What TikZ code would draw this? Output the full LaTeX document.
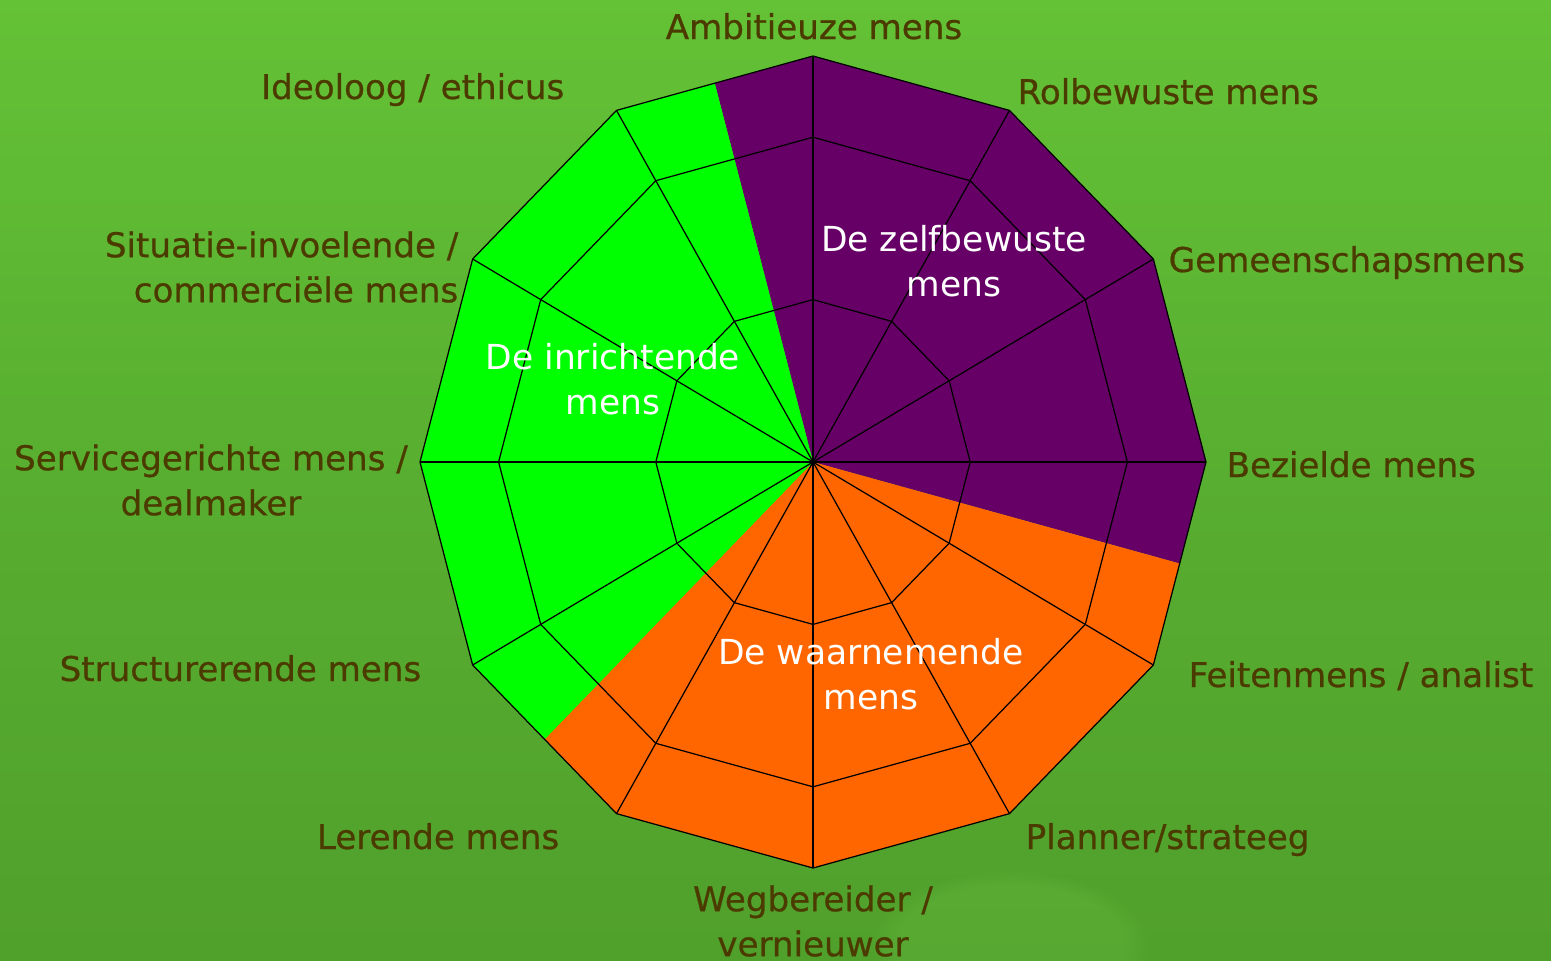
\documentclass[tikz,border=0pt]{standalone}
\usepackage{fontspec}
\setmainfont{DejaVu Sans}
\newfontfamily\labfont{DejaVu Sans}[FakeBold=0.7]
\usetikzlibrary{calc,fadings}
\definecolor{bgtop}{RGB}{100,194,54}
\definecolor{bgmid}{RGB}{88,174,48}
\definecolor{bgbot}{RGB}{80,160,44}
\definecolor{lbl}{RGB}{76,59,0}
\definecolor{zpurple}{RGB}{102,0,102}
\definecolor{zgreen}{RGB}{0,255,0}
\definecolor{zorange}{RGB}{255,102,0}
\begin{document}
\begin{tikzpicture}[x=0.01cm,y=-0.01cm,
  grid/.style={black,line width=0.35pt,line join=miter},
  lab/.style={text=lbl,font=\labfont\fontsize{9.7}{12.8}\selectfont,inner sep=0pt},
  inlab/.style={text=white,font=\fontsize{9.8}{12.8}\selectfont,align=center,inner sep=0pt}]
\useasboundingbox (0,0) rectangle (1551,960);
\shade[top color=bgtop,bottom color=bgbot,middle color=bgmid] (0,0) rectangle (1551,960);
\fill[bgtop!90!white,opacity=0.22,path fading=circle with fuzzy edge 20 percent] (1010,945) ellipse (140 and 75);
% geometry
\coordinate (c) at (813,462);
\foreach \i in {0,...,11}{
  \coordinate (v\i) at ({813+393*cos(90-30*\i)},{462-406*sin(90-30*\i)});
}
\coordinate (m105) at ($(v11)!0.5!(v0)$);
\coordinate (m345) at ($(v3)!0.5!(v4)$);
\coordinate (m225) at ($(v7)!0.5!(v8)$);
% sectors
\fill[zpurple] (c) -- (m105) -- (v0) -- (v1) -- (v2) -- (v3) -- (m345) -- cycle;
\fill[zorange] (c) -- (m345) -- (v4) -- (v5) -- (v6) -- (v7) -- (m225) -- cycle;
\fill[zgreen] (c) -- (m225) -- (v8) -- (v9) -- (v10) -- (v11) -- (m105) -- cycle;
% grid
\foreach \i in {0,...,11}{ \draw[grid] (c) -- (v\i); }
\foreach \r in {0.4,0.8}{
  \draw[grid] plot[samples at={90,60,...,-240}] ({813+393*\r*cos(\x)},{462-406*\r*sin(\x)}) -- cycle;
}
\draw[grid] (v0) -- (v1) -- (v2) -- (v3) -- (v4) -- (v5) -- (v6) -- (v7) -- (v8) -- (v9) -- (v10) -- (v11) -- cycle;
\fill (c) circle (2.5);
% labels
\node[lab,anchor=base] (amb) at (814,39) {Ambitieuze mens};
\node[lab,anchor=base west] (rol) at (1017,104) {Rolbewuste mens};
\node[lab,anchor=base west] (gem) at (1168,272) {Gemeenschapsmens};
\node[lab,anchor=base west] (bez) at (1226,477) {Bezielde mens};
\node[lab,anchor=base west] (fei) at (1188,687) {Feitenmens / analist};
\node[lab,anchor=base west] (pla) at (1025,849) {Planner/strateeg};
\node[lab,align=center] (weg) at (813,921) {Wegbereider /\\vernieuwer};
\node[lab,anchor=base east] (ler) at (560,849) {Lerende mens};
\node[lab,anchor=base east] (str) at (422,681) {Structurerende mens};
\node[lab,align=center] (ser) at (211,480) {Servicegerichte mens /\\dealmaker};
\node[lab,align=right,anchor=east] (sit) at (459,267) {Situatie-invoelende /\\commerciële mens};
\node[lab,anchor=base east] (ide) at (565,99) {Ideoloog / ethicus};
\node[inlab] (zelf) at (954,261) {De zelfbewuste\\mens};
\node[inlab] (inr) at (613,379) {De inrichtende\\mens};
\node[inlab] (waa) at (871,674) {De waarnemende\\mens};
\end{tikzpicture}
\end{document}
